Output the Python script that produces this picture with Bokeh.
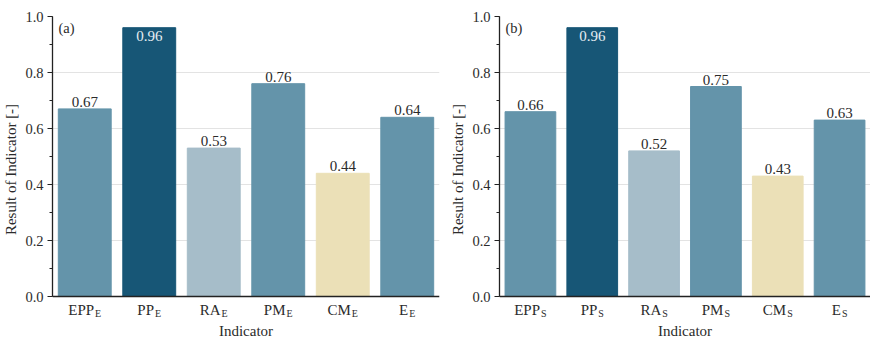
from bokeh.plotting import figure
from bokeh.layouts import row
from bokeh.models import (ColumnDataSource, LabelSet, Label, Range1d, Span,
                          SingleIntervalTicker, NumeralTickFormatter, FixedTicker)
from bokeh.embed import file_html
from bokeh.resources import INLINE

# ---- data ----
indicators = ["EPP", "PP", "RA", "PM", "CM", "E"]
subscript_a = "E"
subscript_b = "S"
values_a = [0.67, 0.96, 0.53, 0.76, 0.44, 0.64]
values_b = [0.66, 0.96, 0.52, 0.75, 0.43, 0.63]
bar_colors = ["#6494AA", "#175676", "#A6BDC9", "#6494AA", "#EBE0B7", "#6494AA"]
label_inside = [False, True, False, False, False, False]
panel_tags = ["(a)", "(b)"]
y_label = "Result of Indicator [-]"
x_label = "Indicator"

FONT = "Liberation Serif"
TXT = "#2b2b2b"
AX = "#222222"
MAIN_FS = 15
SUB_FS = 10
CHAR_W = {"E": 0.611, "P": 0.556, "R": 0.667, "A": 0.722, "M": 0.889, "C": 0.667, "S": 0.556}

PX_PER_UNIT = 280      # pixels for y in [0, 1]
LABEL_ROOM = 26        # pixels of frame below y = 0 for the category labels


def make_panel(values, sub, tag, frame_w, border_left, border_right):
    n = len(indicators)
    xs = [i + 0.5 for i in range(n)]  # category centres
    p = figure(x_range=Range1d(0, n),
               y_range=Range1d(-LABEL_ROOM / PX_PER_UNIT, 1.0),
               frame_width=frame_w, frame_height=PX_PER_UNIT + LABEL_ROOM,
               min_border_left=border_left, min_border_right=border_right,
               min_border_top=16, min_border_bottom=18,
               output_backend="svg", toolbar_location=None)
    p.outline_line_color = None
    p.background_fill_color = "white"
    p.border_fill_color = "white"
    p.xgrid.grid_line_color = None
    p.ygrid.grid_line_color = "#e3e3e3"
    p.ygrid.grid_line_width = 1
    p.ygrid.bounds = (0, 1)

    src = ColumnDataSource(dict(x=xs, top=values, color=bar_colors))
    p.vbar(x="x", top="top", width=0.82, bottom=0, source=src,
           fill_color="color", line_color="color")

    # x axis line at y = 0
    p.add_layout(Span(location=0, dimension="width", line_color=AX, line_width=1.3))

    # value labels
    out_idx = [i for i, f in enumerate(label_inside) if not f]
    in_idx = [i for i, f in enumerate(label_inside) if f]
    src_out = ColumnDataSource(dict(x=[xs[i] for i in out_idx],
                                    y=[values[i] for i in out_idx],
                                    t=["%.2f" % values[i] for i in out_idx]))
    src_in = ColumnDataSource(dict(x=[xs[i] for i in in_idx],
                                   y=[values[i] for i in in_idx],
                                   t=["%.2f" % values[i] for i in in_idx]))
    p.add_layout(LabelSet(x="x", y="y", text="t", source=src_out, y_offset=2,
                          text_align="center", text_baseline="bottom",
                          text_font=FONT, text_font_size="15px", text_color=TXT))
    p.add_layout(LabelSet(x="x", y="y", text="t", source=src_in, y_offset=-3,
                          text_align="center", text_baseline="top",
                          text_font=FONT, text_font_size="15px", text_color="#e6edf2"))

    # category labels with subscripts
    split = []
    for m in indicators:
        wm = sum(CHAR_W[c] for c in m) * MAIN_FS
        ws = CHAR_W[sub] * SUB_FS + 1
        split.append((wm - ws) / 2.0)
    csrc = ColumnDataSource(dict(x=xs, y=[0] * n, main=indicators, sub=[sub] * n,
                                 off=split, off2=[s + 1 for s in split]))
    p.add_layout(LabelSet(x="x", y="y", text="main", source=csrc, x_offset="off",
                          y_offset=-18, text_align="right", text_baseline="alphabetic",
                          text_font=FONT, text_font_size="%gpx" % MAIN_FS, text_color=TXT))
    p.add_layout(LabelSet(x="x", y="y", text="sub", source=csrc, x_offset="off2",
                          y_offset=-20.5, text_align="left", text_baseline="alphabetic",
                          text_font=FONT, text_font_size="%gpx" % SUB_FS, text_color=TXT))

    p.add_layout(Label(x=6, y=261 + LABEL_ROOM, x_units="screen", y_units="screen",
                       text=tag, text_font=FONT, text_font_size="14.5px", text_color=TXT))

    # bottom axis: title only
    xa = p.xaxis[0]
    xa.ticker = FixedTicker(ticks=[])
    xa.axis_label = x_label
    xa.axis_line_color = None
    xa.major_tick_out = 0
    xa.major_tick_in = 0
    xa.minor_tick_out = 0
    xa.minor_tick_in = 0
    xa.major_label_standoff = 0
    xa.axis_label_standoff = 0
    xa.axis_label_text_font = FONT
    xa.axis_label_text_font_size = "15px"
    xa.axis_label_text_font_style = "normal"
    xa.axis_label_text_color = TXT

    # y axis
    ya = p.yaxis[0]
    ya.bounds = (0, 1)
    ya.ticker = SingleIntervalTicker(interval=0.2, num_minor_ticks=2)
    ya.formatter = NumeralTickFormatter(format="0.0")
    ya.axis_line_color = AX
    ya.axis_line_width = 1.3
    ya.major_tick_line_color = AX
    ya.major_tick_in = 0
    ya.major_tick_out = 5
    ya.minor_tick_line_color = AX
    ya.minor_tick_in = 0
    ya.minor_tick_out = 3
    ya.major_label_standoff = 4
    ya.major_label_text_font = FONT
    ya.major_label_text_font_size = "14.5px"
    ya.major_label_text_color = TXT
    ya.axis_label = y_label
    ya.axis_label_standoff = 3
    ya.axis_label_text_font = FONT
    ya.axis_label_text_font_size = "15px"
    ya.axis_label_text_font_style = "normal"
    ya.axis_label_text_color = TXT
    return p


pa = make_panel(values_a, subscript_a, panel_tags[0], 387, 48, 8)
pb = make_panel(values_b, subscript_b, panel_tags[1], 371, 48, 0)
layout = row(pa, pb, spacing=0)

open("out.html", "w").write(file_html(layout, INLINE))
